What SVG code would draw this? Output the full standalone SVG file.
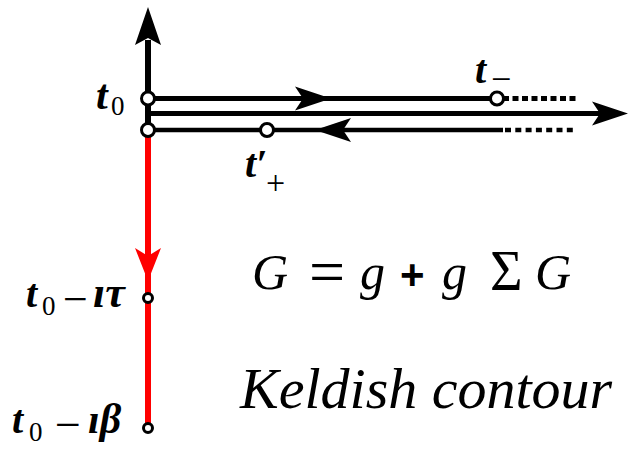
<svg xmlns="http://www.w3.org/2000/svg" width="637" height="451" viewBox="0 0 637 451">
<style>
.ln{stroke:#000;fill:none}
.red{stroke:#ff0000;fill:none}
.pt{fill:#fff;stroke:#000;stroke-width:3}
.lbl{font-family:"Liberation Serif",serif;font-style:italic;font-weight:bold;fill:#000}
.up{font-family:"Liberation Serif",serif;font-style:normal;font-weight:normal;fill:#000}
.big{font-family:"Liberation Serif",serif;font-style:italic;fill:#000}
</style>
<defs>
<path id="ahR" d="M0,0 L-36,-12 L-28,0 L-36,12 Z"/>
</defs>
<rect width="637" height="451" fill="#fff"/>
<g id="connectors">
  <line class="ln" x1="148" y1="40" x2="148" y2="130" stroke-width="6"/>
  <path id="up-arrow" d="M148,7 L161,45 L148,38 L135,45 Z" fill="#000"/>
  <line class="ln" x1="148" y1="98.5" x2="492" y2="98.5" stroke-width="5"/>
  <line class="ln" x1="503" y1="98.5" x2="577" y2="98.5" stroke-width="5" stroke-dasharray="6,3.5"/>
  <line class="ln" x1="148" y1="113.5" x2="600" y2="113.5" stroke-width="5"/>
  <line class="ln" x1="148" y1="130" x2="503" y2="130" stroke-width="4.5"/>
  <line class="ln" x1="505" y1="130" x2="577" y2="130" stroke-width="4.5" stroke-dasharray="6,4.3"/>
  <use href="#ahR" transform="translate(331,98.5)"/>
  <use href="#ahR" transform="translate(628,113.5)"/>
  <use href="#ahR" transform="translate(315,130) rotate(180)"/>
  <line class="red" x1="148" y1="133" x2="148" y2="426" stroke-width="6"/>
  <path id="red-arrow" d="M148,281 L161,248 L148,256 L135,248 Z" fill="#ff0000"/>
</g>
<g id="node-t0">
  <circle class="pt" cx="148" cy="98.5" r="6.5"/>
  <text class="lbl" x="96" y="109" font-size="42">t</text>
  <text class="up" x="111" y="115" font-size="27">0</text>
</g>
<g id="node-t0b">
  <circle class="pt" cx="148" cy="130" r="6.5"/>
</g>
<g id="node-tplus">
  <circle class="pt" cx="267" cy="130" r="6.5"/>
  <text class="lbl" x="245" y="177" font-size="40">t′</text>
  <text class="up" x="266" y="194" font-size="34">+</text>
</g>
<g id="node-tminus">
  <circle class="pt" cx="497" cy="98.5" r="6.5"/>
  <text class="lbl" x="475" y="83" font-size="40">t</text>
  <text class="up" x="491" y="91" font-size="36">−</text>
</g>
<g id="node-tau">
  <circle class="pt" cx="148" cy="298" r="4.5"/>
  <text class="lbl" x="26" y="307" font-size="40">t</text>
  <text class="up" x="42" y="315" font-size="27">0</text>
  <text class="up" x="63" y="314" font-size="44">−</text>
  <text class="lbl" x="93" y="307" font-size="44">ıτ</text>
</g>
<g id="node-beta">
  <circle class="pt" cx="148" cy="428" r="4.5"/>
  <text class="lbl" x="12" y="433" font-size="40">t</text>
  <text class="up" x="29" y="441" font-size="27">0</text>
  <text class="up" x="55" y="440" font-size="46">−</text>
  <text class="lbl" x="88" y="433" font-size="42">ıβ</text>
</g>
<g id="formula">
  <text class="big" x="252" y="289" font-size="50">G</text>
  <text class="up" x="309" y="293" font-size="64">=</text>
  <text class="big" x="360" y="289" font-size="50">g</text>
  <text x="400" y="289" font-size="42" font-family="Liberation Sans,sans-serif" font-weight="bold">+</text>
  <text class="big" x="442" y="289" font-size="50">g</text>
  <text class="up" x="490" y="290" font-size="56">Σ</text>
  <text class="big" x="535" y="289" font-size="50">G</text>
</g>
<g id="caption">
  <text class="big" x="240" y="408" font-size="58">Keldish contour</text>
</g>
</svg>
